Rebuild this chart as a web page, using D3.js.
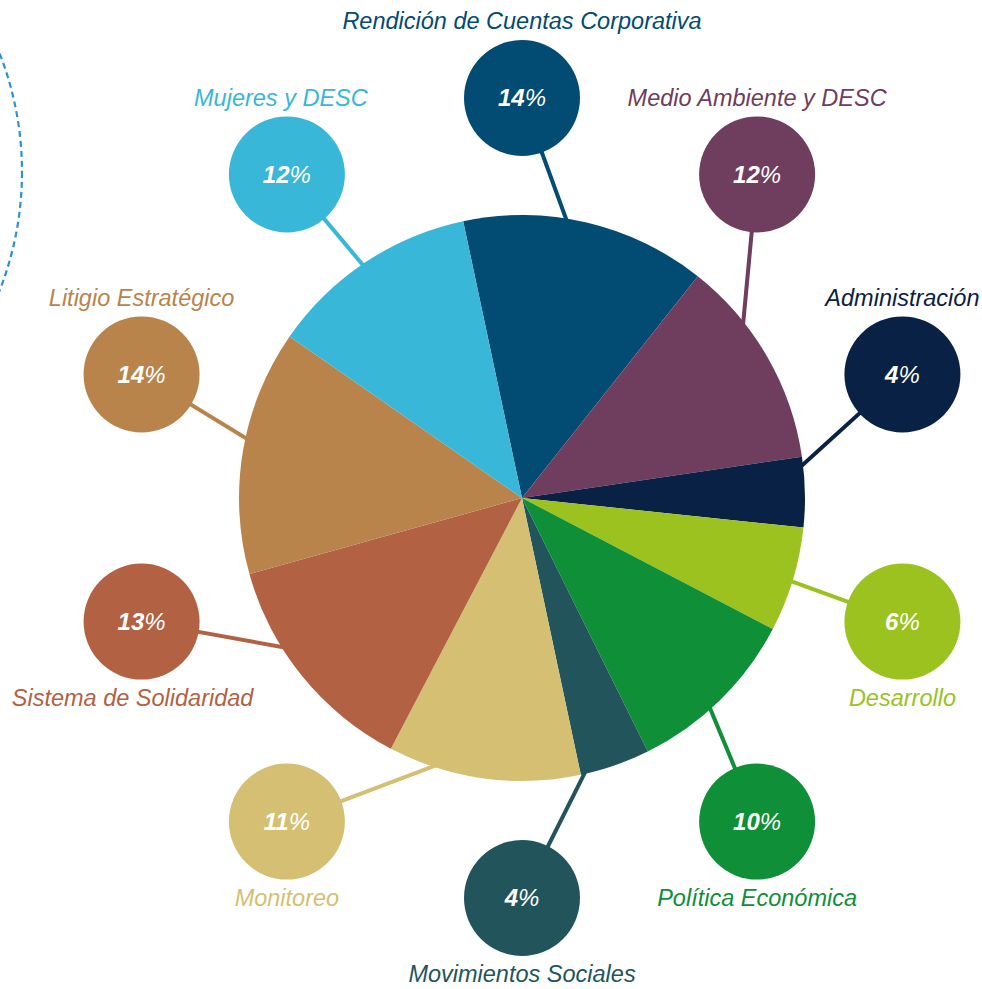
<!DOCTYPE html>
<meta charset="utf-8">
<style>
body { margin: 0; background: #fff; }
text { font-family: "Liberation Sans", Arial, sans-serif; font-style: italic; }
.pct { fill: #fff; font-size: 24px; }
.pct .num { font-weight: bold; }
.lbl { font-size: 23.5px; }
</style>
<svg width="982" height="989"></svg>
<script src="https://d3js.org/d3.v7.min.js"></script>
<script>
// categories, clockwise from the top
var categories = ["Rendición de Cuentas Corporativa", "Medio Ambiente y DESC", "Administración",
  "Desarrollo", "Política Económica", "Movimientos Sociales", "Monitoreo",
  "Sistema de Solidaridad", "Litigio Estratégico", "Mujeres y DESC"];
var values = [14, 12, 4, 6, 10, 4, 11, 13, 14, 12];
var colors = ["#024b73", "#6f3d5e", "#0a2146", "#9bc21f", "#0e8f38", "#22555b",
  "#d4bf73", "#b26142", "#b9844b", "#38b7d8"];

var data = categories.map(function(c, i) { return {name: c, value: values[i], color: colors[i], i: i}; });

var svg = d3.select("svg"),
    cx = 522, cy = 498, r = 283,
    bubbleDist = 400, bubbleR = 58;

// dashed arc at the top-left edge
svg.append("circle")
    .attr("cx", -303).attr("cy", 172).attr("r", 325)
    .attr("fill", "none")
    .attr("stroke", "#2b93cf")
    .attr("stroke-width", 2.2)
    .attr("stroke-dasharray", "6 4");

var pie = d3.pie()
    .sort(null)
    .value(function(d) { return d.value; })
    .startAngle(-12 * Math.PI / 180)
    .endAngle((360 - 12) * Math.PI / 180);

var arcs = pie(data);
var arc = d3.arc().innerRadius(0).outerRadius(r);
var inner = d3.arc().innerRadius(250).outerRadius(250);

// bubbles sit evenly around the pie
function bubblePos(i) {
  var a = i * 36 * Math.PI / 180;
  return [cx + bubbleDist * Math.sin(a), cy - bubbleDist * Math.cos(a)];
}

var g = svg.append("g");

// connector lines (under the pie)
g.selectAll("line")
  .data(arcs)
  .enter().append("line")
    .attr("x1", function(d) { return bubblePos(d.data.i)[0]; })
    .attr("y1", function(d) { return bubblePos(d.data.i)[1]; })
    .attr("x2", function(d) { return cx + inner.centroid(d)[0]; })
    .attr("y2", function(d) { return cy + inner.centroid(d)[1]; })
    .attr("stroke", function(d) { return d.data.color; })
    .attr("stroke-width", 4);

g.append("g")
    .attr("transform", "translate(" + cx + "," + cy + ")")
  .selectAll("path")
  .data(arcs)
  .enter().append("path")
    .attr("d", arc)
    .attr("fill", function(d) { return d.data.color; });

var b = g.selectAll(".bubble")
  .data(data)
  .enter().append("g")
    .attr("class", "bubble")
    .attr("transform", function(d) { return "translate(" + bubblePos(d.i) + ")"; });

b.append("circle")
    .attr("r", bubbleR)
    .attr("fill", function(d) { return d.color; });

var t = b.append("text")
    .attr("class", "pct")
    .attr("text-anchor", "middle")
    .attr("dy", "0.35em");
t.append("tspan").attr("class", "num").text(function(d) { return d.value; });
t.append("tspan").text("%");

b.append("text")
    .attr("class", "lbl")
    .attr("text-anchor", "middle")
    .attr("fill", function(d) { return d.color; })
    .attr("x", function(d) { return d.i === 7 ? -9 : d.i === 9 ? -6 : 0; })
    .attr("y", function(d) {
      var top = Math.cos(d.i * 36 * Math.PI / 180) > 0.1;
      return top ? -77 : 76;
    })
    .attr("dy", "0.35em")
    .text(function(d) { return d.name; });
</script>
